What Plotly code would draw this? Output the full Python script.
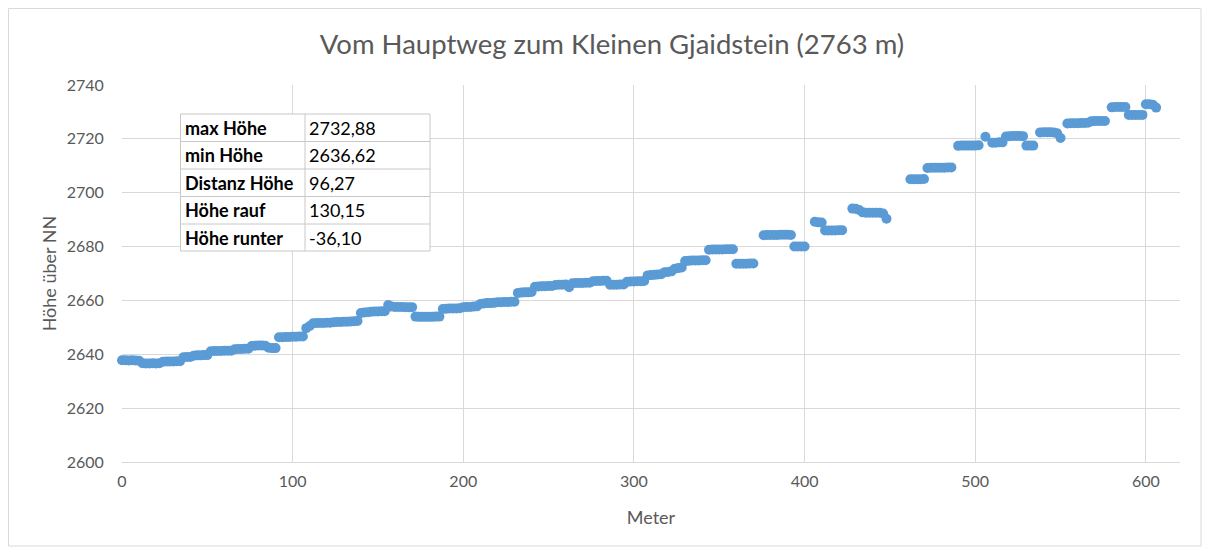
import plotly.graph_objects as go

# Distance along the path (m) and altitude (m above sea level)
meter = [
    0, 2, 4, 6, 8, 10,
    12, 14, 16, 18, 20, 22,
    24, 26, 28, 30, 32, 34,
    36, 38, 40,
    42, 44, 46, 48, 50,
    52, 54, 56, 58, 60, 62, 64,
    66, 68, 70, 72, 74,
    76, 78, 80, 82, 84,
    86, 88, 90,
    92, 94, 96, 98, 100, 102, 104, 106,
    108, 110,
    112, 114, 116, 118, 120, 122,
    124, 126, 128, 130, 132, 134, 136, 138,
    140, 142, 144,
    146, 148, 150, 152, 154,
    156, 158, 160, 162, 164, 166, 168, 170,
    172, 174, 176, 178, 180, 182, 184, 186,
    188, 190, 192, 194, 196, 198,
    200, 202, 204, 206, 208,
    210, 212, 214, 216, 218,
    220, 222, 224, 226, 228, 230,
    232, 234, 236, 238, 240,
    242, 244, 246, 248, 250, 252,
    254, 256, 258, 260,
    262,
    264, 266, 268, 270, 272, 274,
    276, 278, 280, 282, 284,
    286, 288, 290, 292, 294,
    296, 298, 300, 302, 304, 306,
    308, 310, 312, 314, 316,
    318, 320, 322,
    324, 326, 328,
    330, 332, 334, 336, 338, 340, 342,
    344, 346, 348, 350, 352, 354, 356, 358,
    360, 362, 364, 366, 368, 370,
    376, 378, 380, 382, 384, 386, 388, 390, 392,
    394, 396, 398, 400,
    406, 408, 410,
    412, 414, 416, 418, 420, 422,
    428, 430, 432,
    434, 436, 438, 440, 442, 444, 446,
    448,
    462, 464, 466, 468, 470,
    472, 474, 476, 478, 480, 482, 484, 486,
    490, 492, 494, 496, 498, 500, 502,
    506,
    510, 512, 514, 516,
    518, 520, 522, 524, 526, 528,
    530, 532, 534,
    538, 540, 542, 544, 546, 548,
    550,
    554, 556, 558, 560, 562, 564, 566,
    568, 570, 572, 574, 576,
    580, 582, 584, 586, 588,
    590, 592, 594, 596, 598,
    600, 602, 604,
    606,
]

hoehe = [
    2637.8, 2637.8, 2637.7, 2637.8, 2637.7, 2637.6,
    2636.7, 2636.6, 2636.6, 2636.7, 2636.6, 2636.7,
    2637.2, 2637.3, 2637.3, 2637.3, 2637.4, 2637.4,
    2638.9, 2639.0, 2639.0,
    2639.5, 2639.6, 2639.6, 2639.7, 2639.7,
    2641.1, 2641.2, 2641.2, 2641.2, 2641.3, 2641.3, 2641.3,
    2641.9, 2642.0, 2642.0, 2642.1, 2642.1,
    2643.1, 2643.2, 2643.3, 2643.3, 2643.2,
    2642.4, 2642.3, 2642.3,
    2646.3, 2646.3, 2646.4, 2646.4, 2646.5, 2646.5, 2646.6, 2646.6,
    2649.7, 2650.5,
    2651.5, 2651.6, 2651.6, 2651.6, 2651.7, 2651.7,
    2651.9, 2652.0, 2652.0, 2652.1, 2652.1, 2652.2, 2652.3, 2652.4,
    2655.3, 2655.5, 2655.6,
    2655.8, 2655.9, 2655.9, 2656.0, 2656.0,
    2658.3, 2657.7, 2657.6, 2657.6, 2657.6, 2657.5, 2657.5, 2657.5,
    2654.0, 2653.9, 2653.9, 2653.9, 2653.9, 2653.9, 2654.0, 2654.0,
    2656.8, 2656.9, 2657.0, 2657.0, 2657.0, 2657.1,
    2657.5, 2657.6, 2657.6, 2657.7, 2657.8,
    2658.7, 2658.9, 2659.0, 2659.0, 2659.1,
    2659.3, 2659.3, 2659.4, 2659.4, 2659.5, 2659.5,
    2662.8, 2662.9, 2663.0, 2663.0, 2663.1,
    2665.1, 2665.2, 2665.3, 2665.3, 2665.4, 2665.4,
    2665.7, 2665.8, 2665.8, 2665.9,
    2664.9,
    2666.4, 2666.5, 2666.5, 2666.5, 2666.6, 2666.6,
    2667.1, 2667.2, 2667.2, 2667.3, 2667.3,
    2665.8, 2665.8, 2665.8, 2665.9, 2665.9,
    2666.9, 2667.0, 2667.0, 2667.1, 2667.1, 2667.2,
    2669.3, 2669.4, 2669.5, 2669.6, 2669.7,
    2670.5, 2670.6, 2670.8,
    2671.8, 2672.0, 2672.2,
    2674.6, 2674.7, 2674.8, 2674.8, 2674.8, 2674.9, 2674.9,
    2678.8, 2678.9, 2678.9, 2678.9, 2678.9, 2679.0, 2679.0, 2679.0,
    2673.6, 2673.6, 2673.6, 2673.6, 2673.7, 2673.7,
    2684.2, 2684.3, 2684.3, 2684.3, 2684.3, 2684.4, 2684.4, 2684.4, 2684.3,
    2680.0, 2680.0, 2680.0, 2680.0,
    2689.2, 2689.0, 2688.9,
    2686.0, 2686.0, 2686.0, 2686.0, 2686.1, 2686.1,
    2694.1, 2694.0, 2693.6,
    2692.7, 2692.6, 2692.6, 2692.6, 2692.6, 2692.6, 2692.3,
    2690.3,
    2705.0, 2705.0, 2705.0, 2705.0, 2705.1,
    2709.2, 2709.3, 2709.3, 2709.3, 2709.3, 2709.3, 2709.4, 2709.4,
    2717.4, 2717.5, 2717.5, 2717.5, 2717.5, 2717.5, 2717.6,
    2720.8,
    2718.6, 2718.6, 2718.7, 2718.7,
    2720.9, 2721.0, 2721.1, 2721.1, 2721.1, 2721.0,
    2717.5, 2717.5, 2717.5,
    2722.4, 2722.5, 2722.5, 2722.5, 2722.4, 2722.1,
    2720.3,
    2725.7, 2725.8, 2725.8, 2725.8, 2725.9, 2725.9, 2726.0,
    2726.5, 2726.6, 2726.6, 2726.6, 2726.6,
    2731.7, 2731.8, 2731.8, 2731.8, 2731.8,
    2728.9, 2728.9, 2728.9, 2728.9, 2728.9,
    2732.88, 2732.88, 2732.7,
    2731.6,
]

# Summary table
table_labels = ["max Höhe", "min Höhe", "Distanz Höhe", "Höhe rauf", "Höhe runter"]
table_values = ["2732,88", "2636,62", "96,27", "130,15", "-36,10"]

title_text = "Vom Hauptweg zum Kleinen Gjaidstein (2763 m)"
x_title = "Meter"
y_title = "Höhe über NN"

OFF = 8  # page body margin
W, H = 1215 - OFF, 548 - OFF
L, R, T, B = 122 - OFF, 35, 85 - OFF, 86
PW, PH = W - L - R, H - T - B


def px(xp):
    return (xp - OFF - L) / PW


def py(yp):
    return (H - B - (yp - OFF)) / PH


TXT = "#595959"
GRID = "#d9d9d9"
FONT = "Lato, 'Open Sans', sans-serif"

fig = go.Figure()
fig.add_trace(go.Scatter(
    x=meter, y=hoehe, mode="markers",
    marker=dict(color="#5b9bd5", size=10, line=dict(width=0)),
    showlegend=False, cliponaxis=False,
))

shapes = []
annotations = []

# outer chart border
shapes.append(dict(type="rect", xref="paper", yref="paper",
                   x0=px(8.5), x1=px(1201), y0=py(8.5), y1=py(546),
                   line=dict(color="#d9d9d9", width=1), fillcolor="rgba(0,0,0,0)",
                   layer="below"))

# table
row_tops = [114, 141.5, 169, 196.5, 224, 251]
col_x = [180.5, 305, 430]
shapes.append(dict(type="rect", xref="paper", yref="paper",
                   x0=px(col_x[0]), x1=px(col_x[2]), y0=py(row_tops[0]), y1=py(row_tops[-1]),
                   line=dict(color="#c8c8c8", width=1), fillcolor="white", layer="above"))
for yy in row_tops[1:-1]:
    shapes.append(dict(type="line", xref="paper", yref="paper",
                       x0=px(col_x[0]), x1=px(col_x[2]), y0=py(yy), y1=py(yy),
                       line=dict(color="#c8c8c8", width=1), layer="above"))
shapes.append(dict(type="line", xref="paper", yref="paper",
                   x0=px(col_x[1]), x1=px(col_x[1]), y0=py(row_tops[0]), y1=py(row_tops[-1]),
                   line=dict(color="#c8c8c8", width=1), layer="above"))
for i, (lab, val) in enumerate(zip(table_labels, table_values)):
    yc = (row_tops[i] + row_tops[i + 1]) / 2
    annotations.append(dict(xref="paper", yref="paper", x=px(col_x[0] + 2), y=py(yc),
                            xanchor="left", yanchor="middle", showarrow=False,
                            text="<b>" + lab + "</b>",
                            font=dict(family=FONT, size=18, color="#000000")))
    annotations.append(dict(xref="paper", yref="paper", x=px(col_x[1] + 2), y=py(yc),
                            xanchor="left", yanchor="middle", showarrow=False,
                            text=val,
                            font=dict(family=FONT, size=18, color="#000000")))

fig.update_layout(
    width=W, height=H,
    margin=dict(l=L, r=R, t=T, b=B, pad=0),
    paper_bgcolor="white", plot_bgcolor="white",
    title=dict(text=title_text, x=(612 - OFF) / W, xref="container", xanchor="center",
               y=1 - (44 - OFF) / H, yanchor="middle",
               font=dict(family=FONT, size=27.5, color=TXT)),
    xaxis=dict(range=[0, 620], dtick=100, tick0=0, showgrid=True, gridcolor=GRID,
               gridwidth=1, zeroline=False, showline=True, linecolor=GRID,
               ticks="outside", ticklen=5, tickcolor="rgba(0,0,0,0)",
               tickfont=dict(family=FONT, size=16, color=TXT),
               title=dict(text=x_title, standoff=22,
                          font=dict(family=FONT, size=18, color=TXT))),
    yaxis=dict(range=[2600, 2740], dtick=20, tick0=2600, showgrid=True, gridcolor=GRID,
               gridwidth=1, zeroline=False, showline=False,
               ticks="outside", ticklen=14, tickcolor="rgba(0,0,0,0)",
               tickfont=dict(family=FONT, size=16, color=TXT),
               title=dict(text=y_title, standoff=5,
                          font=dict(family=FONT, size=18, color=TXT))),
    shapes=shapes, annotations=annotations,
)

fig.write_html("out.html")
